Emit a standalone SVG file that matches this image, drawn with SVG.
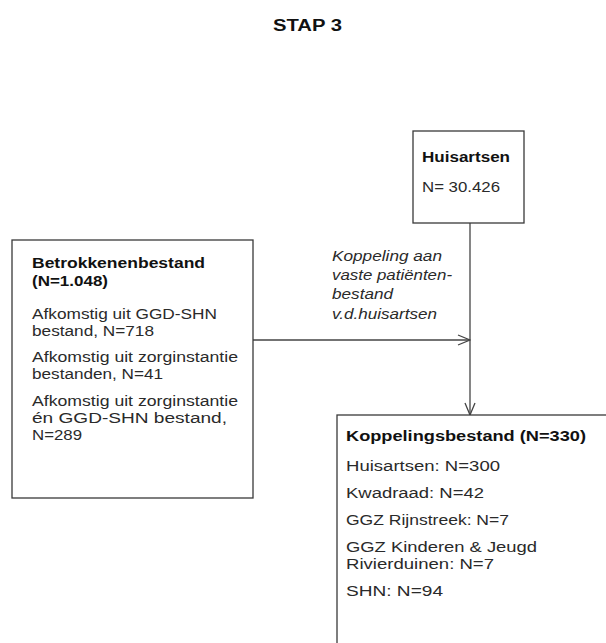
<svg xmlns="http://www.w3.org/2000/svg" width="606" height="643" viewBox="0 0 606 643">
<style>
.t{font-family:"Liberation Sans",Arial,sans-serif;font-size:14px;fill:#2a2a2a}
.b{font-weight:bold;fill:#111}
.i{font-style:italic}
.box{fill:#fff;stroke:#3a3a3a;stroke-width:1.3}
.ln{fill:none;stroke:#444;stroke-width:1.3}
</style>
<defs>
<marker id="ah" viewBox="0 0 14 12" refX="13" refY="6" markerWidth="14" markerHeight="12" markerUnits="userSpaceOnUse" orient="auto">
<path d="M1,1 L13,6 L1,11" fill="none" stroke="#444" stroke-width="1.3"/>
</marker>
</defs>
<rect width="606" height="643" fill="#fff"/>
<text class="t b" x="273" y="31" textLength="69" lengthAdjust="spacingAndGlyphs" style="font-size:16px">STAP 3</text>
<g id="connectors">
<line class="ln" x1="253" y1="340" x2="470" y2="340" marker-end="url(#ah)"/>
<line class="ln" x1="470" y1="223" x2="470" y2="415" marker-end="url(#ah)"/>
<g id="label">
<text class="t i" x="332" y="261" textLength="110" lengthAdjust="spacingAndGlyphs">Koppeling aan</text>
<text class="t i" x="332" y="280" textLength="120" lengthAdjust="spacingAndGlyphs">vaste patiënten-</text>
<text class="t i" x="332" y="299" textLength="61" lengthAdjust="spacingAndGlyphs">bestand</text>
<text class="t i" x="332" y="319" textLength="105" lengthAdjust="spacingAndGlyphs">v.d.huisartsen</text>
</g>
</g>
<g id="huisartsen">
<rect class="box" x="413" y="131" width="111" height="92"/>
<text class="t b" x="422" y="162" textLength="88" lengthAdjust="spacingAndGlyphs">Huisartsen</text>
<text class="t" x="422" y="192" textLength="78" lengthAdjust="spacingAndGlyphs">N= 30.426</text>
</g>
<g id="betrokkenen">
<rect class="box" x="12" y="240" width="241" height="258"/>
<text class="t b" x="32" y="268" textLength="173" lengthAdjust="spacingAndGlyphs">Betrokkenenbestand</text>
<text class="t b" x="32" y="286" textLength="76" lengthAdjust="spacingAndGlyphs">(N=1.048)</text>
<text class="t" x="32" y="319" textLength="185" lengthAdjust="spacingAndGlyphs">Afkomstig uit GGD-SHN</text>
<text class="t" x="32" y="336" textLength="122" lengthAdjust="spacingAndGlyphs">bestand, N=718</text>
<text class="t" x="32" y="362" textLength="206" lengthAdjust="spacingAndGlyphs">Afkomstig uit zorginstantie</text>
<text class="t" x="32" y="379" textLength="131" lengthAdjust="spacingAndGlyphs">bestanden, N=41</text>
<text class="t" x="32" y="406" textLength="206" lengthAdjust="spacingAndGlyphs">Afkomstig uit zorginstantie</text>
<text class="t" x="32" y="423" textLength="195" lengthAdjust="spacingAndGlyphs">én GGD-SHN  bestand,</text>
<text class="t" x="32" y="440" textLength="50" lengthAdjust="spacingAndGlyphs">N=289</text>
</g>
<g id="koppelingsbestand">
<rect class="box" x="337" y="415" width="280" height="240"/>
<text class="t b" x="346" y="441" textLength="240" lengthAdjust="spacingAndGlyphs">Koppelingsbestand (N=330)</text>
<text class="t" x="346" y="471" textLength="154" lengthAdjust="spacingAndGlyphs">Huisartsen: N=300</text>
<text class="t" x="346" y="498" textLength="138" lengthAdjust="spacingAndGlyphs">Kwadraad: N=42</text>
<text class="t" x="346" y="525" textLength="163" lengthAdjust="spacingAndGlyphs">GGZ Rijnstreek: N=7</text>
<text class="t" x="346" y="552" textLength="191" lengthAdjust="spacingAndGlyphs">GGZ Kinderen &amp; Jeugd</text>
<text class="t" x="346" y="569" textLength="148" lengthAdjust="spacingAndGlyphs">Rivierduinen: N=7</text>
<text class="t" x="346" y="596" textLength="97" lengthAdjust="spacingAndGlyphs">SHN: N=94</text>
</g>
</svg>
